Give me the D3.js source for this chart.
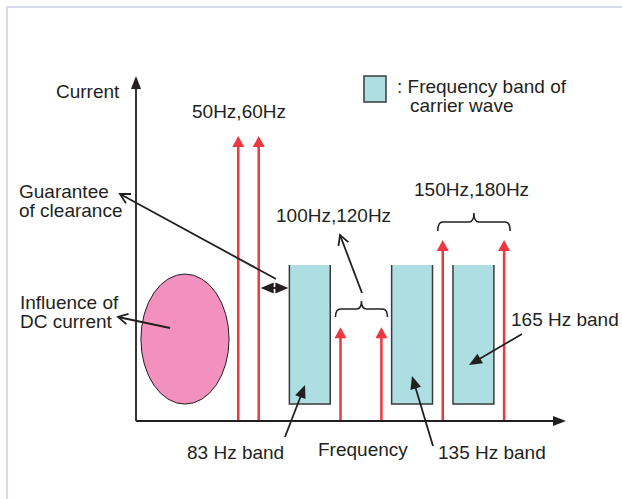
<!DOCTYPE html>
<html>
<head>
<meta charset="utf-8">
<script src="https://cdn.jsdelivr.net/npm/d3@7"></script>
<style>
  html, body { margin: 0; padding: 0; background: #fff; }
  svg { display: block; }
  text { font-family: "Liberation Sans", Arial, sans-serif; font-size: 19px; fill: #231f20; }
</style>
</head>
<body>
<div id="chart"></div>
<script>
// data
const harmonics = [50, 60, 100, 120, 150, 180];           // Hz, red lines
const harmonicLevels = [82.6, 82.6, 27.2, 27.2, 52.5, 52.5]; // relative current
const bandLow = [75, 125, 155];                            // carrier bands, Hz
const bandHigh = [95, 145, 175];
const bandLabels = ["83 Hz band", "135 Hz band", "165 Hz band"];
const bandTop = 45.2, bandBottom = 4.9;
const dcRange = [2.4, 45.5];   // Hz span of DC influence
const dcLevel = [4.9, 42.6];   // current span
const braceGroups = [[100, 120], [150, 180]];
const braceLabels = ["100Hz,120Hz", "150Hz,180Hz"];

const width = 622, height = 499;
const ink = "#231f20", red = "#ee3740", blue = "#acdee2", pink = "#f291bd";

const x = d3.scaleLinear().domain([0, 200]).range([136, 545]);
const y = d3.scaleLinear().domain([0, 100]).range([421, 76]);

const svg = d3.select("#chart").append("svg")
  .attr("width", width).attr("height", height);

// frame
svg.append("path")
  .attr("d", `M7,${height} V7 H${width}`)
  .attr("fill", "none").attr("stroke", "#d8dbef").attr("stroke-width", 2);

// dc influence
svg.append("ellipse")
  .attr("cx", (x(dcRange[0]) + x(dcRange[1])) / 2)
  .attr("cy", (y(dcLevel[0]) + y(dcLevel[1])) / 2)
  .attr("rx", (x(dcRange[1]) - x(dcRange[0])) / 2)
  .attr("ry", (y(dcLevel[0]) - y(dcLevel[1])) / 2)
  .attr("fill", pink).attr("stroke", ink).attr("stroke-width", 1);

// carrier bands (dark sides + bottom only)
bandLow.forEach((lo, i) => {
  const x0 = x(lo), x1 = x(bandHigh[i]), y0 = y(bandTop), y1 = y(bandBottom);
  svg.append("rect").attr("x", x0).attr("y", y0)
    .attr("width", x1 - x0).attr("height", y1 - y0).attr("fill", blue);
  svg.append("path").attr("d", `M${x0},${y0} V${y1} H${x1} V${y0}`)
    .attr("fill", "none").attr("stroke", "#3a3a3a").attr("stroke-width", 1.5);
});

// harmonics
harmonics.forEach((f, i) => {
  const cx = x(f), tip = y(harmonicLevels[i]);
  svg.append("line").attr("x1", cx).attr("x2", cx)
    .attr("y1", y(0)).attr("y2", tip + 8)
    .attr("stroke", red).attr("stroke-width", 2.5);
  svg.append("path")
    .attr("d", `M${cx},${tip} L${cx + 6},${tip + 11} L${cx - 6},${tip + 11} Z`)
    .attr("fill", red);
});

// axes
svg.append("line").attr("x1", x(0)).attr("x2", x(0)).attr("y1", y(0)).attr("y2", 84)
  .attr("stroke", ink).attr("stroke-width", 1.8);
svg.append("path").attr("d", `M${x(0)},76 L${x(0) + 5},89 L${x(0) - 5},89 Z`).attr("fill", ink);
svg.append("line").attr("x1", x(0)).attr("x2", 558).attr("y1", y(0)).attr("y2", y(0))
  .attr("stroke", ink).attr("stroke-width", 1.8);
svg.append("path").attr("d", `M566,${y(0)} L553,${y(0) - 5} L553,${y(0) + 5} Z`).attr("fill", ink);

// helpers for annotation arrows
function openArrow(x1, y1, x2, y2) {
  svg.append("line").attr("x1", x1).attr("y1", y1).attr("x2", x2).attr("y2", y2)
    .attr("stroke", ink).attr("stroke-width", 1.8);
  const a = Math.atan2(y2 - y1, x2 - x1), L = 11, s = 0.5;
  svg.append("path")
    .attr("d", `M${x2 - L * Math.cos(a - s)},${y2 - L * Math.sin(a - s)} L${x2},${y2} L${x2 - L * Math.cos(a + s)},${y2 - L * Math.sin(a + s)}`)
    .attr("fill", "none").attr("stroke", ink).attr("stroke-width", 1.8);
}
function solidArrow(x1, y1, x2, y2) {
  const a = Math.atan2(y2 - y1, x2 - x1), L = 13, w = 5.5;
  svg.append("line").attr("x1", x1).attr("y1", y1)
    .attr("x2", x2 - (L - 2) * Math.cos(a)).attr("y2", y2 - (L - 2) * Math.sin(a))
    .attr("stroke", ink).attr("stroke-width", 1.8);
  const bx = x2 - L * Math.cos(a), by = y2 - L * Math.sin(a);
  svg.append("path")
    .attr("d", `M${x2},${y2} L${bx - w * Math.sin(a)},${by + w * Math.cos(a)} L${bx + w * Math.sin(a)},${by - w * Math.cos(a)} Z`)
    .attr("fill", ink);
}
function brace(x1, x2, yEnd, yMid, yPeak) {
  const xc = (x1 + x2) / 2, r = 5;
  svg.append("path")
    .attr("d", `M${x1},${yEnd} Q${x1},${yMid} ${x1 + r},${yMid} L${xc - r},${yMid} Q${xc},${yMid} ${xc},${yPeak} Q${xc},${yMid} ${xc + r},${yMid} L${x2 - r},${yMid} Q${x2},${yMid} ${x2},${yEnd}`)
    .attr("fill", "none").attr("stroke", ink).attr("stroke-width", 1.5);
}

// braces
brace(x(braceGroups[0][0]) - 5, x(braceGroups[0][1]) + 6, 317, 309, 301);
brace(x(braceGroups[1][0]) - 5, x(braceGroups[1][1]) + 6, 231, 222, 213);

// clearance double arrow
solidArrow(275, 288, x(bandLow[0]) - 1, 288);
solidArrow(275, 288, x(60) + 2, 288);

// annotation arrows
openArrow(276, 279, 120, 194);
openArrow(170, 328, 118, 317);
openArrow(362, 293, 340, 235);
solidArrow(285, 437, 305, 385);
solidArrow(433, 446, 412, 376);
solidArrow(522, 334, 469, 365);

// legend
svg.append("rect").attr("x", 364).attr("y", 76).attr("width", 22).attr("height", 26)
  .attr("fill", blue).attr("stroke", "#3a3a3a").attr("stroke-width", 1.5);

// texts
const labels = [
  ["Current", 56, 98],
  [": Frequency band of", 397, 93],
  ["carrier wave", 410, 112],
  ["50Hz,60Hz", 192, 118],
  [braceLabels[0], 276, 222],
  [braceLabels[1], 414, 196],
  ["Guarantee", 19, 198],
  ["of clearance", 19, 217],
  ["Influence of", 20, 309],
  ["DC current", 20, 328],
  [bandLabels[2], 511, 326],
  [bandLabels[0], 187, 459],
  ["Frequency", 318, 456],
  [bandLabels[1], 438, 459]
];
svg.selectAll("text.lbl").data(labels).enter().append("text")
  .attr("class", "lbl")
  .attr("x", d => d[1]).attr("y", d => d[2])
  .text(d => d[0]);
</script>
</body>
</html>
